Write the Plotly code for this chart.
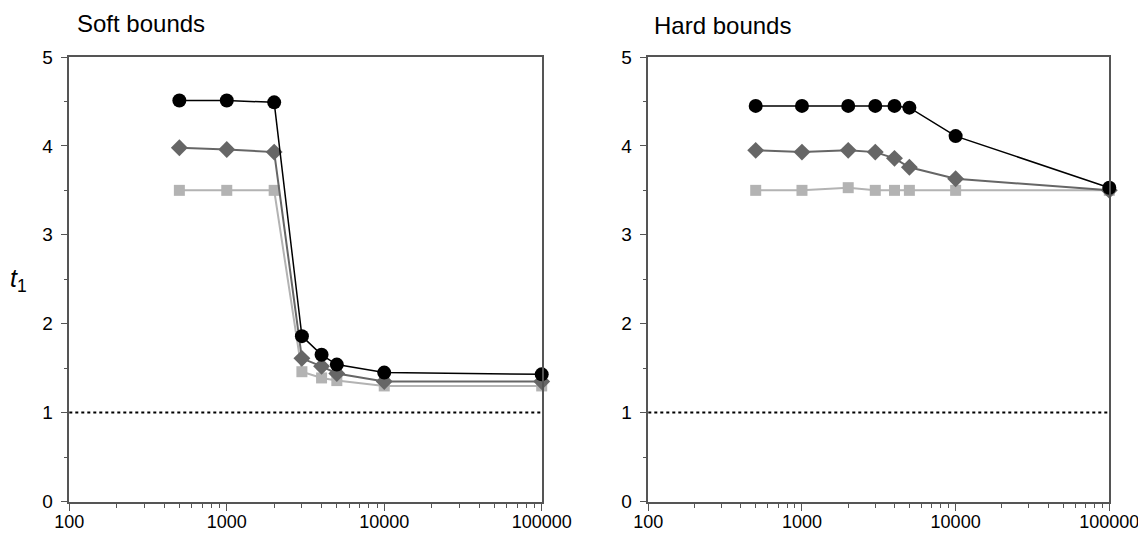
import plotly.graph_objects as go
from plotly.subplots import make_subplots

# ---- data ----
x_vals = [500, 1000, 2000, 3000, 4000, 5000, 10000, 100000]

soft_circle = [4.51, 4.51, 4.49, 1.86, 1.65, 1.54, 1.45, 1.43]
soft_diamond = [3.98, 3.96, 3.93, 1.61, 1.52, 1.44, 1.35, 1.35]
soft_square = [3.50, 3.50, 3.50, 1.46, 1.39, 1.36, 1.30, 1.30]

hard_circle = [4.45, 4.45, 4.45, 4.45, 4.45, 4.43, 4.11, 3.53]
hard_diamond = [3.95, 3.93, 3.95, 3.93, 3.86, 3.76, 3.63, 3.50]
hard_square = [3.50, 3.50, 3.53, 3.50, 3.50, 3.50, 3.50, 3.50]

panel_titles = ["Soft bounds", "Hard bounds"]
x_tick_vals = [100, 1000, 10000, 100000]
x_tick_text = ["100", "1000", "10000", "100000"]
x_minor_vals = [m * d for d in (100, 1000, 10000) for m in range(2, 10)]
y_tick_vals = [0, 1, 2, 3, 4, 5]
y_minor_vals = [0.5, 1.5, 2.5, 3.5, 4.5]
ref_level = 1

FONT = "Liberation Sans, Arial, Helvetica, sans-serif"
AXIS_COL = "#555555"

styles = [
    ("square", "#b3b3b3", 11, 2.0),
    ("diamond", "#666666", 13, 2.0),
    ("circle", "#000000", 14, 1.5),
]

fig = make_subplots(rows=1, cols=2)

panels = [
    (1, [soft_square, soft_diamond, soft_circle]),
    (2, [hard_square, hard_diamond, hard_circle]),
]
for col, series in panels:
    for (sym, color, size, lw), ys in zip(styles, series):
        fig.add_trace(
            go.Scatter(
                x=x_vals, y=ys, mode="lines+markers",
                line=dict(color=color, width=lw),
                marker=dict(symbol=sym, size=size, color=color),
                showlegend=False, cliponaxis=False,
            ),
            row=1, col=col,
        )
    fig.add_hline(y=ref_level, line=dict(color="black", dash="dot", width=2),
                  row=1, col=col)

# page body has an 8px margin: figure is placed at (8, 8)
OFF = 8
FW, FH = 1146 - OFF, 536 - OFF


def px_x(px):
    return (px - OFF) / FW


def px_y(py):
    return (FH - (py - OFF)) / FH


x_domains = [[px_x(69.3), px_x(541.7)], [px_x(648.3), px_x(1109.3)]]
y_domain = [px_y(501.5), px_y(57)]

for i, dom in enumerate(x_domains, start=1):
    fig.update_xaxes(
        type="log", range=[2, 5], domain=dom, automargin=False,
        tickmode="array", tickvals=x_tick_vals, ticktext=x_tick_text,
        ticks="outside", ticklen=8, tickwidth=1.2, tickcolor=AXIS_COL,
        minor=dict(tickmode="array", tickvals=x_minor_vals, ticks="outside",
                   ticklen=5, tickwidth=1.2, tickcolor=AXIS_COL, showgrid=False),
        showline=True, linecolor=AXIS_COL, linewidth=1.5, mirror=True,
        showgrid=False, zeroline=False,
        tickfont=dict(family=FONT, size=18, color="black"),
        ticklabelstandoff=-5,
        row=1, col=i,
    )
    fig.update_yaxes(
        range=[0, 5], domain=y_domain, automargin=False,
        tickmode="array", tickvals=y_tick_vals,
        ticks="outside", ticklen=7, tickwidth=1.2, tickcolor=AXIS_COL,
        minor=dict(tickmode="array", tickvals=y_minor_vals, ticks="outside",
                   ticklen=4, tickwidth=1.2, tickcolor=AXIS_COL, showgrid=False),
        showline=True, linecolor=AXIS_COL, linewidth=1.5, mirror=True,
        showgrid=False, zeroline=False,
        tickfont=dict(family=FONT, size=19, color="black"),
        ticklabelstandoff=4,
        row=1, col=i,
    )

# panel titles
fig.add_annotation(text=panel_titles[0], xref="paper", yref="paper",
                   x=px_x(75), y=px_y(24), xanchor="left", yanchor="middle",
                   showarrow=False, font=dict(family=FONT, size=24, color="black"))
fig.add_annotation(text=panel_titles[1], xref="paper", yref="paper",
                   x=px_x(652), y=px_y(26), xanchor="left", yanchor="middle",
                   showarrow=False, font=dict(family=FONT, size=24, color="black"))
# y-axis label
fig.add_annotation(text="<i>t</i><sub>1</sub>", xref="paper", yref="paper",
                   x=px_x(18), y=px_y(280), xanchor="center", yanchor="middle",
                   showarrow=False, font=dict(family=FONT, size=25, color="black"))

fig.update_layout(
    width=FW, height=FH,
    margin=dict(l=0, r=0, t=0, b=0),
    paper_bgcolor="white", plot_bgcolor="white",
    font=dict(family=FONT, color="black"),
)

fig.write_html("out.html")
